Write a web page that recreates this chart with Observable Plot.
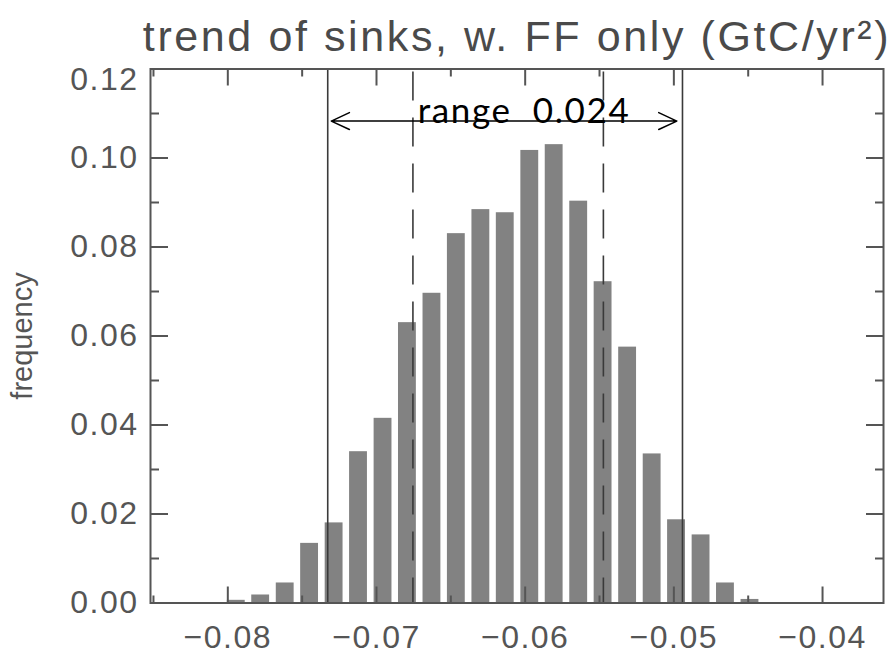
<!DOCTYPE html>
<html>
<head>
<meta charset="utf-8">
<script src="https://cdn.jsdelivr.net/npm/d3@7"></script>
<script src="https://cdn.jsdelivr.net/npm/@observablehq/plot@0.6"></script>
<style>
  html, body { margin: 0; padding: 0; background: white; }
  #chart svg { display: block; }
</style>
</head>
<body>
<div id="chart"></div>
<script>
// Histogram bins (centres) and frequencies
const binCenters = [-0.07943, -0.07779, -0.07614, -0.07450, -0.07285, -0.07121, -0.06956, -0.06792,
  -0.06627, -0.06463, -0.06298, -0.06134, -0.05969, -0.05805, -0.05640, -0.05476,
  -0.05311, -0.05146, -0.04982, -0.04817, -0.04653, -0.04488];
const frequency = [0.0006, 0.0018, 0.0045, 0.0134, 0.0180, 0.0340, 0.0415, 0.0630,
  0.0696, 0.0830, 0.0884, 0.0877, 0.1017, 0.1030, 0.0903, 0.0722,
  0.0575, 0.0335, 0.0187, 0.0153, 0.0045, 0.0008];
const binWidth = 0.001645;

// Vertical reference lines
const rangeLines = [-0.07328, -0.04942];     // solid
const innerLines = [-0.06755, -0.05474];     // dashed

// Range arrow annotation
const arrowEnds = [-0.07304, -0.04980];
const arrowY = 0.1083;
const annotationText = ["range  0.024"];
const annotationX = -0.06013;
const annotationY = 0.1078;

// Ticks
const xMajor = [-0.08, -0.07, -0.06, -0.05, -0.04];
const xMinor = [-0.085, -0.075, -0.065, -0.055, -0.045];
const yMajor = [0, 0.02, 0.04, 0.06, 0.08, 0.10, 0.12];
const yMinor = [0.01, 0.03, 0.05, 0.07, 0.09, 0.11];
const yTopLabel = [0.12];

const title = ["trend of sinks, w. FF only (GtC/yr²)"];
const yLabel = ["frequency"];

const bins = binCenters.map((x, i) => ({x, f: frequency[i]}));
const arrowMid = (arrowEnds[0] + arrowEnds[1]) / 2;
const arrows = arrowEnds.map(e => ({x1: arrowMid, x2: e}));
const yLabelTicks = yMajor.filter(v => !yTopLabel.includes(v));

const axisColor = "#555";
const fmt = d3.format(".2f");

const chart = Plot.plot({
  width: 893,
  height: 657,
  marginTop: 68.5,
  marginBottom: 54.5,
  marginLeft: 150,
  marginRight: 10,
  style: {fontFamily: "'Liberation Sans', Arial, sans-serif", background: "white"},
  x: {domain: [-0.0852, -0.0359]},
  y: {domain: [0, 0.12]},
  marks: [
    Plot.rectY(bins, {
      x1: d => d.x - binWidth / 2,
      x2: d => d.x + binWidth / 2,
      y: "f",
      insetLeft: 3.3,
      insetRight: 3.3,
      fill: "#828282"
    }),
    Plot.ruleX(rangeLines, {stroke: "#3a3a3a", strokeWidth: 1.6}),
    Plot.ruleX(innerLines, {stroke: "#3a3a3a", strokeWidth: 1.6, strokeDasharray: "29,17", strokeDashoffset: -3}),
    Plot.frame({stroke: axisColor, strokeWidth: 2}),
    // inward ticks
    Plot.axisX({anchor: "bottom", ticks: xMajor, tickSize: -16, fill: "none", stroke: axisColor, strokeWidth: 2, label: null}),
    Plot.axisX({anchor: "bottom", ticks: xMinor, tickSize: -7, fill: "none", stroke: axisColor, strokeWidth: 2, label: null}),
    Plot.axisX({anchor: "top", ticks: xMajor, tickSize: -16, fill: "none", stroke: axisColor, strokeWidth: 2, label: null}),
    Plot.axisX({anchor: "top", ticks: xMinor, tickSize: -7, fill: "none", stroke: axisColor, strokeWidth: 2, label: null}),
    Plot.axisY({anchor: "left", ticks: yMajor, tickSize: -18, fill: "none", stroke: axisColor, strokeWidth: 2, label: null}),
    Plot.axisY({anchor: "left", ticks: yMinor, tickSize: -9, fill: "none", stroke: axisColor, strokeWidth: 2, label: null}),
    Plot.axisY({anchor: "right", ticks: yMajor, tickSize: -18, fill: "none", stroke: axisColor, strokeWidth: 2, label: null}),
    Plot.axisY({anchor: "right", ticks: yMinor, tickSize: -9, fill: "none", stroke: axisColor, strokeWidth: 2, label: null}),
    // tick labels
    Plot.axisX({anchor: "bottom", ticks: xMajor, tickSize: 0, tickPadding: 22, tickFormat: fmt, fontSize: 32, fill: axisColor, label: null}),
    Plot.axisY({anchor: "left", ticks: yLabelTicks, tickSize: 0, tickPadding: 12, tickFormat: fmt, fontSize: 32, fill: axisColor, label: null}),
    Plot.axisY({anchor: "left", ticks: yTopLabel, tickSize: 0, tickPadding: 12, tickFormat: fmt, fontSize: 32, fill: axisColor, label: null, dy: 11}),
    // axis title
    Plot.text(yLabel, {text: d => d, frameAnchor: "left", dx: -128, rotate: -90, textAnchor: "middle", fontSize: 29, fill: axisColor}),
    // chart title
    Plot.text(title, {text: d => d, frameAnchor: "top", dy: -18.5, lineAnchor: "bottom", fontSize: 43, fill: "#4a4a4a"}),
    // range arrow
    Plot.arrow(arrows, {x1: "x1", x2: "x2", y1: arrowY, y2: arrowY, stroke: "black", strokeWidth: 1.5, headLength: 20, headAngle: 50}),
    Plot.text(annotationText, {text: d => d, x: annotationX, y: annotationY, lineAnchor: "bottom", fontSize: 35,
      fontFamily: "Lato, 'Open Sans', sans-serif", fill: "black"})
  ]
});

document.getElementById("chart").appendChild(chart);

// spacing adjustments for the wide IDL-style lettering
d3.select(chart).selectAll("text").each(function() {
  const t = this.textContent;
  if (t.startsWith("trend")) this.setAttribute("letter-spacing", "2.6");
  else if (/^[−\-]?0\.\d\d$/.test(t)) this.setAttribute("letter-spacing", "1.5");
  else if (t.startsWith("range")) { this.setAttribute("textLength", "211"); this.setAttribute("lengthAdjust", "spacing"); }
});
</script>
</body>
</html>
